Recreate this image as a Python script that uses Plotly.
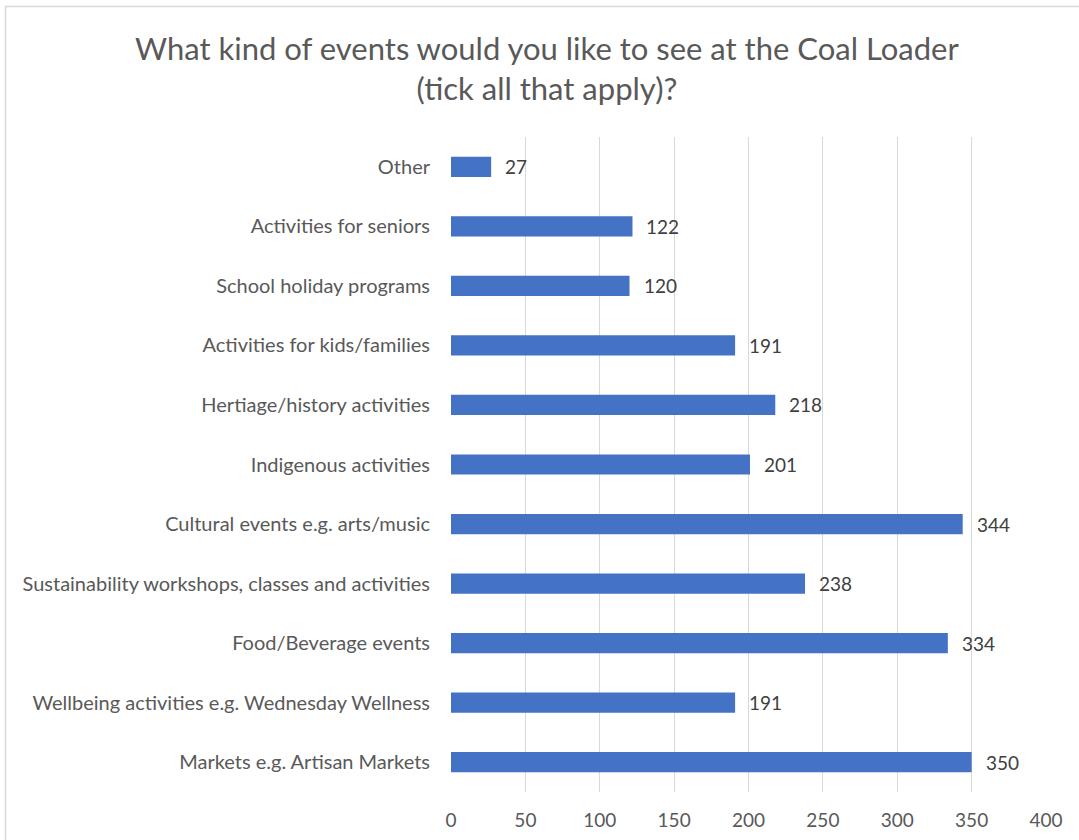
import plotly.graph_objects as go

categories = [
    "Markets e.g. Artisan Markets",
    "Wellbeing activities e.g. Wednesday Wellness",
    "Food/Beverage events",
    "Sustainability workshops, classes and activities",
    "Cultural events e.g. arts/music",
    "Indigenous activities",
    "Hertiage/history activities",
    "Activities for kids/families",
    "School holiday programs",
    "Activities for seniors",
    "Other",
]
values = [350, 191, 334, 238, 344, 201, 218, 191, 120, 122, 27]
x_ticks = [0, 50, 100, 150, 200, 250, 300, 350, 400]

FONT = "Lato"
W, H = 1079, 840
L, R, T, B = 451, 33, 137, 48
pw = W - L - R
ph = H - T - B


def px_x(p):
    return (p - L) / pw


def px_y(p):
    return (H - B - p) / ph


fig = go.Figure()
fig.add_trace(go.Bar(
    x=values, y=categories, orientation="h",
    marker=dict(color="#4472C4", line=dict(width=0)),
    width=0.34, hoverinfo="skip",
))

for v, c in zip(values, categories):
    fig.add_annotation(x=v, y=c, xref="x", yref="y", text=str(v),
                       showarrow=False, xanchor="left", xshift=12,
                       font=dict(family=FONT, size=19, color="#404040"))

fig.add_annotation(
    text="What kind of events would you like to see at the Coal Loader<br>(tick all that apply)?",
    xref="paper", yref="paper", x=px_x(546.5), y=px_y(67.5),
    xanchor="center", yanchor="middle", showarrow=False,
    font=dict(family=FONT, size=31, color="#595959"))

fig.add_shape(type="rect", xref="paper", yref="paper",
              x0=px_x(5.5), x1=px_x(1200),
              y0=px_y(1000), y1=px_y(6.5),
              line=dict(color="#D9D9D9", width=1.5), fillcolor="rgba(0,0,0,0)", layer="below")

fig.update_layout(
    width=W, height=H,
    margin=dict(l=L, r=R, t=T, b=B, autoexpand=False),
    paper_bgcolor="white", plot_bgcolor="white",
    showlegend=False,
    xaxis=dict(range=[0, 400], tickvals=x_ticks, showgrid=True, gridcolor="#D9D9D9", gridwidth=1,
               zeroline=False, showline=False, ticks="", ticklabelstandoff=15, automargin=False,
               tickfont=dict(family=FONT, size=19, color="#595959")),
    yaxis=dict(showgrid=False, zeroline=False, showline=False, ticks="", ticklabelstandoff=20,
               automargin=False,
               categoryorder="array", categoryarray=categories,
               tickfont=dict(family=FONT, size=20, color="#595959")),
)

fig.write_html("out.html", config={"displayModeBar": False},
               post_script="document.body.style.margin='0';")
